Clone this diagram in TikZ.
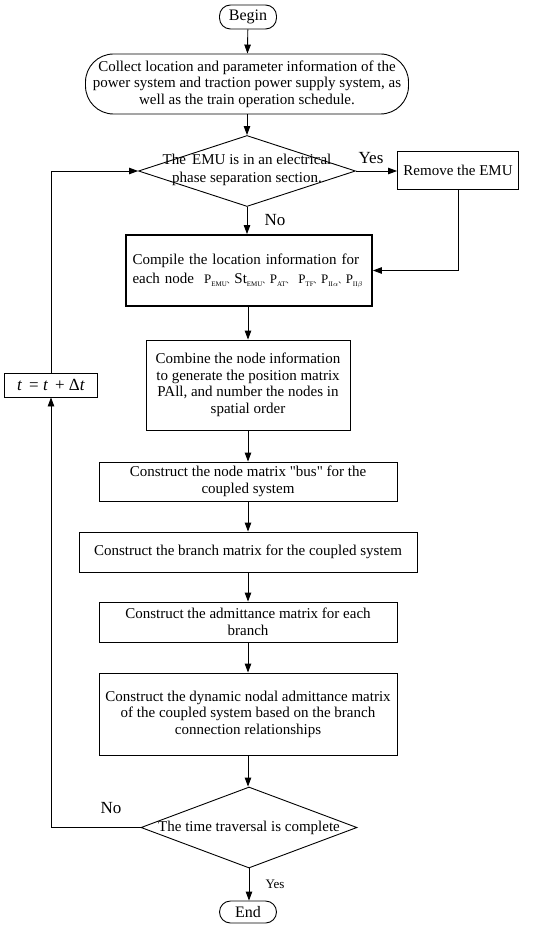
\documentclass[tikz,border=0pt]{standalone}
\usepackage{fontspec}
\setmainfont{Liberation Serif}
\newfontfamily\qfont{Liberation Serif}
\newfontfamily\cjk{Noto Sans CJK SC}
\usetikzlibrary{arrows.meta,shapes.geometric}
\newcommand{\lsub}[1]{\raisebox{-0.45ex}{\fontsize{7}{7}\selectfont #1}}
\newcommand{\dun}{{\cjk\fontsize{7.5}{7.5}\selectfont 、}}
\newcommand{\bigP}{{\fontsize{13}{13}\selectfont P}}
\newcommand{\dq}{{\qfont\symbol{34}}}
\begin{document}
\begin{tikzpicture}[x=1pt,y=-1pt,
  font=\fontsize{15}{16.5}\selectfont,
  line width=0.9pt,
  box/.style={draw, rectangle, align=center, inner sep=0pt},
  term/.style={draw, rectangle, rounded corners=11pt, minimum width=57pt, minimum height=24pt, inner sep=0pt, font=\fontsize{16}{16}\selectfont},
  dia/.style={draw, diamond, inner sep=0pt},
  arr/.style={-{Triangle[length=9pt,width=6.5pt]}},
  lab/.style={inner sep=0pt, font=\fontsize{17}{17}\selectfont}]
\useasboundingbox (0,0) rectangle (550,928);

\node[term] (begin) at (248,17) {Begin};
\node[box, rounded corners=28pt, minimum width=323pt, minimum height=60pt] (collect) at (247,84)
  {Collect location and parameter information of the\\power system and traction power supply system, as\\well as the train operation schedule.};
\node[dia, minimum width=217pt, minimum height=71pt] (d1) at (247,171) {};
\node[align=center, inner sep=0pt, font=\fontsize{15}{18}\selectfont] (d1t) at ([yshift=1pt]d1.center) {The\, EMU is in an electrical\\phase separation section.};
\node[box, minimum width=121pt, minimum height=38pt] (remove) at (458,170) {Remove the EMU};
\node[box, line width=1.8pt, minimum width=246pt, minimum height=71pt, text width=233pt, align=left,
  font=\fontsize{15}{19}\selectfont] (compile) at (249,270.5)
  {\makebox[233pt][s]{Compile the location information for}\\
   each node\ \ \bigP\lsub{EMU}\dun St\lsub{EMU}\dun\bigP\lsub{AT}\dun\ \bigP\lsub{TF}\dun\bigP\lsub{II$\alpha$}\dun\bigP\lsub{II$\beta$}};
\node[box, minimum width=204pt, minimum height=90pt] (combine) at (248,385)
  {Combine the node information\\to generate the position matrix\\PAll, and number the nodes in\\spatial order};
\node[box, minimum width=298pt, minimum height=39pt] (bus) at (248,481.5)
  {Construct the node matrix \dq bus\dq{} for the\\coupled system};
\node[box, minimum width=338pt, minimum height=40pt] (branch) at (248,552)
  {Construct the branch matrix for the coupled system};
\node[box, minimum width=298pt, minimum height=40pt] (admit) at (248,622)
  {Construct the admittance matrix for each\\branch};
\node[box, minimum width=298pt, minimum height=82pt] (dyn) at (248,714)
  {Construct the dynamic nodal admittance matrix\\of the coupled system based on the branch\\connection relationships};
\node[dia, minimum width=216pt, minimum height=81pt] (d2) at (249,827.5) {};
\node[inner sep=0pt] (d2t) at (d2.center) {The time traversal is complete};
\node[term, minimum height=22pt] (end) at (248,912) {End};
\node[box, minimum width=93pt, minimum height=24pt, font=\fontsize{17}{17}\selectfont] (tbox) at (51,385)
  {\textit{t}\, = \textit{t}\, + Δ\textit{t}};

\node[lab] (yes1) at (371,158) {Yes};
\node[lab] (no1) at (275,220) {No};
\node[lab] (no2) at (111,808) {No};
\node[lab, font=\fontsize{13}{13}\selectfont] (yes2) at (275,884) {Yes};

\draw[arr] (begin) -- (collect);
\draw[arr] (collect) -- (d1);
\draw[arr] (d1.east) -- (d1.east -| remove.west);
\draw[arr] (d1.south) -- (d1.south |- compile.north);
\draw[arr] (remove.south) |- (compile.east);
\draw[arr] (compile.south -| combine.north) -- (combine.north);
\draw[arr] (combine) -- (bus);
\draw[arr] (bus) -- (branch);
\draw[arr] (branch) -- (admit);
\draw[arr] (admit) -- (dyn);
\draw[arr] (dyn.south) -- (dyn.south |- d2.north);
\draw[arr] (d2.south) -- (d2.south |- end.north);
\draw[arr] (d2.west) -| (tbox.south);
\draw[arr] (tbox.north) |- (d1.west);
\end{tikzpicture}
\end{document}
